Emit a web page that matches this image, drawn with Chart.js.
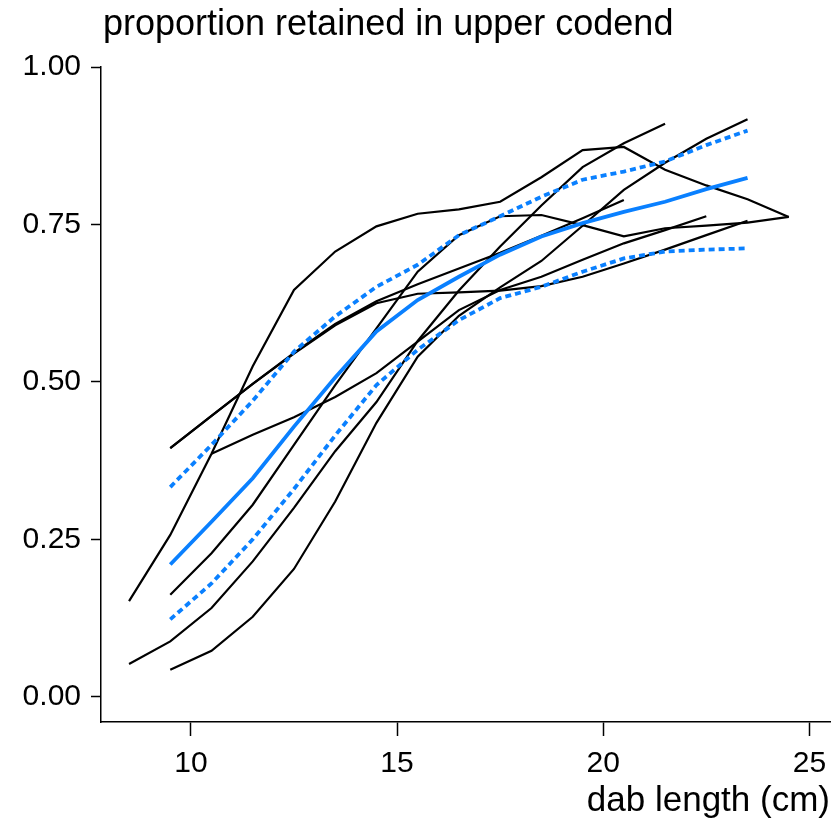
<!DOCTYPE html>
<html>
<head>
<meta charset="utf-8">
<script src="https://cdn.jsdelivr.net/npm/chart.js@4"></script>
<style>
  body { margin: 0; background: #fff; }
</style>
</head>
<body>
<canvas id="retainChart" width="837" height="824"></canvas>
<script>
// length classes (cm) - midpoints
const lengthsCm = [8.5, 9.5, 10.5, 11.5, 12.5, 13.5, 14.5, 15.5, 16.5, 17.5, 18.5, 19.5, 20.5, 21.5, 22.5, 23.5, 24.5];

// per-haul proportions retained in the upper codend (null = no fish in class)
const haul1 = [0.152, 0.257, 0.386, 0.525, 0.646, 0.707, 0.747, 0.767, 0.774, 0.786, 0.825, 0.868, 0.873, 0.837, 0.812, 0.790, 0.762];
const haul2 = [0.052, 0.088, 0.141, 0.215, 0.300, 0.390, 0.468, 0.565, 0.645, 0.715, 0.780, 0.841, 0.879, 0.910, null, null, null];
const haul3 = [null, 0.395, 0.446, 0.497, 0.545, 0.590, 0.625, 0.640, 0.642, 0.645, 0.652, 0.667, 0.688, 0.710, 0.733, 0.756, null];
const haul4 = [null, 0.395, 0.446, 0.497, 0.546, 0.592, 0.628, 0.655, 0.680, 0.705, 0.732, 0.760, 0.789, null, null, null, null];
const haul5 = [null, 0.162, 0.228, 0.305, 0.400, 0.495, 0.585, 0.675, 0.733, 0.763, 0.765, 0.749, 0.731, 0.744, 0.748, 0.753, 0.762];
const haul6 = [null, 0.043, 0.073, 0.127, 0.203, 0.310, 0.435, 0.540, 0.605, 0.650, 0.692, 0.748, 0.805, 0.848, 0.886, 0.917, null];
const haul7 = [null, null, 0.386, 0.416, 0.444, 0.476, 0.514, 0.564, 0.614, 0.646, 0.667, 0.694, 0.720, 0.741, 0.763, null, null];

// mean curve and its confidence band
const meanFit = [null, 0.210, 0.278, 0.347, 0.429, 0.507, 0.580, 0.630, 0.667, 0.702, 0.731, 0.752, 0.770, 0.786, 0.806, 0.824, null];
const upperCI = [null, 0.333, 0.400, 0.470, 0.548, 0.604, 0.651, 0.686, 0.733, 0.763, 0.794, 0.821, 0.834, 0.850, 0.876, 0.899, null];
const lowerCI = [null, 0.123, 0.180, 0.250, 0.330, 0.415, 0.495, 0.551, 0.598, 0.633, 0.651, 0.675, 0.696, 0.707, 0.710, 0.712, null];

const xTicks = [10, 15, 20, 25];
const yTicks = [0, 0.25, 0.5, 0.75, 1];

const blue = "#0a80ff";
const fontFamily = "'Liberation Sans', Arial, sans-serif";

function toPoints(values) {
    const pts = [];
    values.forEach((v, i) => {
        if (v !== null) pts.push({ x: lengthsCm[i], y: v });
    });
    return pts;
}

function haulSet(values) {
    return {
        data: toPoints(values),
        borderColor: "#000",
        borderWidth: 2.2,
        pointRadius: 0,
        tension: 0,
        order: 2,
    };
}

const hauls = [haul1, haul2, haul3, haul4, haul5, haul6, haul7];

// heading drawn above the plot, left aligned
const heading = {
    id: "heading",
    afterDraw(chart) {
        const c = chart.ctx;
        c.save();
        c.fillStyle = "#000";
        c.font = "36px " + fontFamily;
        c.textBaseline = "alphabetic";
        c.textAlign = "left";
        c.fillText("proportion retained in upper codend", 103, 35);
        c.restore();
    },
};

const ctx = document.getElementById("retainChart").getContext("2d");

new Chart(ctx, {
    type: "line",
    data: {
        datasets: [
            ...hauls.map(haulSet),
            {
                data: toPoints(meanFit),
                borderColor: blue,
                borderWidth: 3.8,
                pointRadius: 0,
                order: 0,
            },
            {
                data: toPoints(upperCI),
                borderColor: blue,
                borderWidth: 3.8,
                borderDash: [6, 4],
                pointRadius: 0,
                order: 1,
            },
            {
                data: toPoints(lowerCI),
                borderColor: blue,
                borderWidth: 3.8,
                borderDash: [6, 4],
                pointRadius: 0,
                order: 1,
            },
        ],
    },
    options: {
        responsive: false,
        animation: false,
        layout: {
            padding: { top: 67, right: 7, left: 0, bottom: 2 },
        },
        plugins: {
            legend: { display: false },
            tooltip: { enabled: false },
        },
        scales: {
            x: {
                type: "linear",
                min: 7.82,
                max: 25.5,
                afterBuildTicks: (scale) => {
                    scale.ticks = xTicks.map((v) => ({ value: v }));
                },
                afterFit: (scale) => {
                    scale.height = 100;
                },
                grid: {
                    drawOnChartArea: false,
                    drawTicks: true,
                    tickLength: 14,
                    tickWidth: 1.5,
                    tickColor: "#000",
                },
                border: { display: true, color: "#000", width: 1.5 },
                ticks: {
                    color: "#000",
                    padding: 10,
                    maxRotation: 0,
                    font: { family: fontFamily, size: 30 },
                },
                title: {
                    display: true,
                    text: "dab length (cm)",
                    align: "end",
                    color: "#000",
                    padding: { top: 4, bottom: 0 },
                    font: { family: fontFamily, size: 35 },
                },
            },
            y: {
                type: "linear",
                min: -0.04,
                max: 1,
                afterBuildTicks: (scale) => {
                    scale.ticks = yTicks.map((v) => ({ value: v }));
                },
                afterFit: (scale) => {
                    scale.width = 101;
                },
                grid: {
                    drawOnChartArea: false,
                    drawTicks: true,
                    tickLength: 10,
                    tickWidth: 1.5,
                    tickColor: "#000",
                },
                border: { display: true, color: "#000", width: 1.5 },
                ticks: {
                    color: "#000",
                    padding: 10,
                    font: { family: fontFamily, size: 30 },
                    callback: (v) => Number(v).toFixed(2),
                },
            },
        },
    },
    plugins: [heading],
});
</script>
</body>
</html>
